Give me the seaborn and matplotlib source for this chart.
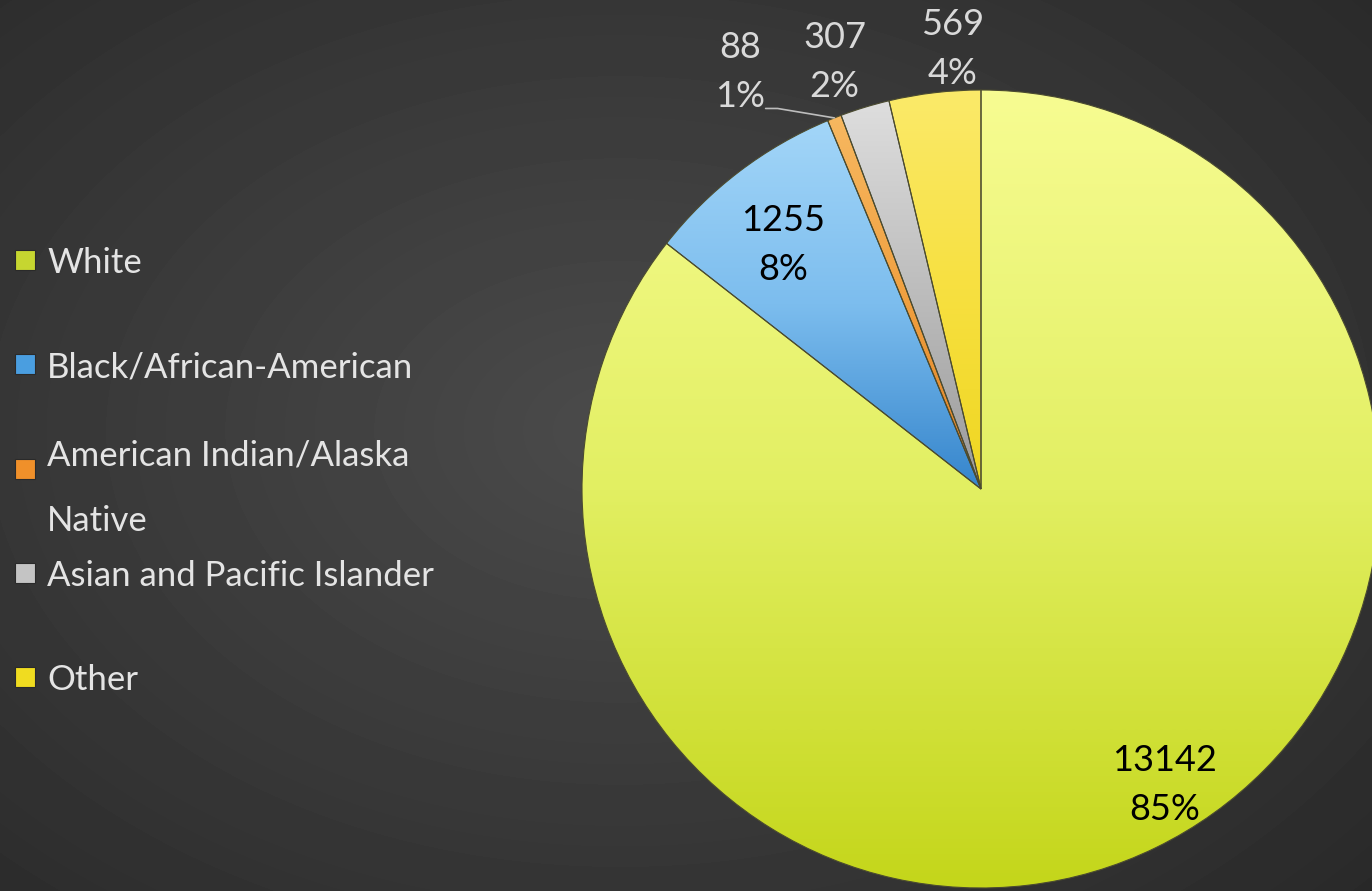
import numpy as np
import matplotlib
matplotlib.use("Agg")
import matplotlib.pyplot as plt
from matplotlib.colors import LinearSegmentedColormap
from matplotlib.patches import Rectangle
import seaborn as sns

# data
categories = ["White", "Black/African-American", "American Indian/Alaska\nNative",
              "Asian and Pacific Islander", "Other"]
counts = [13142, 1255, 88, 307, 569]
pct_labels = ["85%", "8%", "1%", "2%", "4%"]

# slice colours (top, middle, bottom of the shading) and legend swatches
grad_top = ["#f7fc92", "#a3d6f8", "#f7b860", "#dedede", "#fbea6a"]
grad_mid = ["#e2ef62", "#7cbdee", "#f0a040", "#bcbcbc", "#f7e040"]
grad_bot = ["#c4d61a", "#3585cc", "#dd7e22", "#9a9a9a", "#efd620"]
swatch = ["#c6d630", "#4a9ee0", "#f0902a", "#c4c4c4", "#f0dc20"]

# label placement (radius, angular nudge in degrees) and text colour
label_r = [0.874, 0.788, 1.207, 1.131, 1.105]
label_shift = [5.8, 1.7, 8.4, 2.0, -3.0]
label_col = ["black", "black", "#d9d9d9", "#d9d9d9", "#d9d9d9"]
leader = [False, False, True, False, False]

sns.set_theme(style="dark")
plt.rcParams["font.family"] = ["Lato", "DejaVu Sans"]

W, H = 1372, 891
fig = plt.figure(figsize=(W / 100, H / 100), dpi=100)

# dark radial background
bg = fig.add_axes([0, 0, 1, 1])
bg.axis("off")
yy, xx = np.mgrid[0:H, 0:W]
d = np.sqrt(((xx - 620) / 900) ** 2 + ((yy - 430) / 620) ** 2)
shade = np.clip(0.294 - 0.118 * d, 0, 1)
bg.imshow(shade, cmap="gray", vmin=0, vmax=1, aspect="auto", interpolation="bilinear")

# pie axes covering the figure, centre at (981, 489) px, radius 399 px
cx, cy, R = 981, 489, 399
ax = fig.add_axes([0, 0, 1, 1])
ax.axis("off")
ax.patch.set_alpha(0)
wedges, _ = ax.pie(counts, startangle=90, counterclock=False, radius=1,
                   colors=grad_mid, wedgeprops=dict(linewidth=0))

grad = np.linspace(0, 1, 256).reshape(-1, 1)
for w, c0, c1, c2 in zip(wedges, grad_top, grad_mid, grad_bot):
    v = w.get_path().vertices
    cmap = LinearSegmentedColormap.from_list("slice", [c2, c1, c0])
    im = ax.imshow(grad, extent=(v[:, 0].min(), v[:, 0].max(), v[:, 1].min(), v[:, 1].max()),
                   origin="lower", cmap=cmap, aspect="auto", zorder=2, interpolation="bilinear")
    im.set_clip_path(w)
    w.set_facecolor("none")
    w.set_edgecolor("#4b4b30")
    w.set_linewidth(0.8)
    w.set_zorder(3)

for i, w in enumerate(wedges):
    ang = np.deg2rad((w.theta1 + w.theta2) / 2 + label_shift[i])
    x, y = label_r[i] * np.cos(ang), label_r[i] * np.sin(ang)
    ax.text(x, y, f"{counts[i]}\n{pct_labels[i]}", ha="center", va="center",
            fontsize=26, color=label_col[i], linespacing=1.6, zorder=5)
    if leader[i]:
        mid = np.deg2rad((w.theta1 + w.theta2) / 2)
        rim = (np.cos(mid), np.sin(mid))
        ax.plot([x + 0.063, x + 0.093, rim[0]], [y - 0.092, y - 0.092, rim[1]],
                color="#bdbdbd", lw=1.2, zorder=4)

ax.set_aspect("auto")
ax.set_xlim(-cx / R, (W - cx) / R)
ax.set_ylim(-(H - cy) / R, cy / R)

# legend on the left
for i, (name, col) in enumerate(zip(categories, swatch)):
    ypx = 260 + i * 104.25
    fig.patches.append(Rectangle((15 / W, 1 - (ypx + 10) / H), 20 / W, 20 / H,
                                 transform=fig.transFigure, facecolor=col,
                                 edgecolor="#2a2a2a", linewidth=0.8))
    fig.text(47 / W, 1 - ypx / H, name, ha="left", va="center_baseline",
             fontsize=25, color="#e4e4e4", linespacing=2.3)

fig.savefig("out.png", dpi=100)
